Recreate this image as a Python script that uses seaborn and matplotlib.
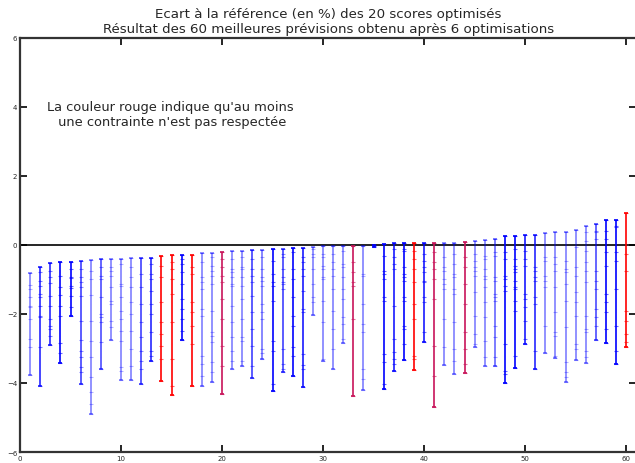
import matplotlib
matplotlib.use("Agg")
import matplotlib.pyplot as plt
import seaborn as sns
import pandas as pd

# Ecart (%) des 20 scores pour chacune des 60 meilleures prévisions (scores lus par prévision)
scores = [
    [-0.81, -1.15, -1.28, -1.52, -1.76, -1.81, -2.14, -2.72, -2.95, -3.76],
    [-0.63, -0.79, -1.03, -1.18, -1.42, -1.52, -1.76, -2.05, -2.10, -2.97, -4.09],
    [-0.53, -0.74, -0.94, -1.11, -1.47, -1.76, -2.14, -2.34, -2.43, -2.63, -2.91],
    [-0.48, -0.89, -1.21, -1.44, -1.76, -2.07, -2.84, -3.14, -3.43],
    [-0.48, -0.70, -0.92, -0.96, -1.18, -1.25, -1.47, -1.81, -2.06],
    [-0.46, -0.70, -0.94, -1.08, -1.23, -1.47, -2.19, -2.75, -3.06, -3.26, -3.54, -3.69, -4.04],
    [-0.43, -0.74, -0.99, -1.44, -2.19, -2.77, -3.26, -3.83, -4.27, -4.61, -4.91],
    [-0.42, -0.65, -0.89, -0.99, -1.52, -2.00, -2.10, -2.24, -2.82, -3.59],
    [-0.40, -0.65, -0.74, -0.89, -1.23, -1.61, -1.71, -2.19, -2.39, -2.75],
    [-0.40, -0.55, -1.13, -1.18, -1.52, -1.90, -2.14, -2.48, -2.77, -3.55, -3.64, -3.92],
    [-0.39, -0.65, -0.94, -1.23, -1.66, -2.00, -2.48, -3.01, -3.50, -3.92],
    [-0.39, -0.84, -1.23, -1.71, -2.24, -2.68, -3.06, -3.35, -3.59, -4.04],
    [-0.37, -0.55, -0.84, -0.99, -1.32, -1.71, -2.00, -2.53, -3.06, -3.21, -3.35],
    [-0.33, -0.60, -0.94, -1.66, -2.24, -2.58, -2.92, -3.31, -3.93],
    [-0.30, -0.50, -0.70, -0.99, -1.42, -2.24, -3.31, -4.08, -4.35],
    [-0.30, -0.41, -0.55, -0.79, -1.13, -1.57, -1.86, -2.14, -2.48, -2.74],
    [-0.29, -0.65, -0.84, -1.66, -1.95, -2.34, -2.87, -4.09],
    [-0.24, -0.50, -0.94, -1.08, -1.28, -1.86, -2.05, -3.21, -3.45, -3.79, -4.10],
    [-0.22, -0.36, -0.60, -0.74, -0.89, -1.13, -1.90, -2.53, -2.63, -2.82, -3.40, -3.69, -3.97],
    [-0.21, -0.41, -0.65, -0.89, -1.08, -1.57, -2.14, -2.92, -3.50, -4.32],
    [-0.18, -0.41, -0.70, -0.79, -0.94, -1.13, -1.18, -1.76, -2.24, -2.68, -3.06, -3.35, -3.59],
    [-0.18, -0.36, -0.65, -0.70, -0.94, -1.18, -1.57, -2.14, -2.68, -2.77, -3.35, -3.52],
    [-0.15, -0.41, -0.70, -0.89, -1.08, -1.47, -1.95, -2.43, -2.92, -3.50, -3.85],
    [-0.14, -0.36, -0.70, -0.94, -1.03, -1.18, -1.71, -1.95, -2.14, -3.01, -3.13, -3.31],
    [-0.12, -0.45, -0.84, -1.08, -1.18, -1.61, -2.77, -3.06, -4.03, -4.22],
    [-0.12, -0.26, -0.36, -0.70, -0.94, -1.08, -1.13, -1.28, -3.01, -3.45, -3.59, -3.67],
    [-0.10, -0.21, -0.70, -0.99, -1.52, -2.05, -2.34, -2.97, -3.21, -3.80],
    [-0.10, -0.36, -0.50, -0.70, -0.89, -1.32, -1.86, -1.95, -3.16, -3.48, -3.59, -4.13],
    [-0.07, -0.12, -0.26, -0.36, -0.70, -1.13, -1.52, -1.66, -2.04],
    [-0.04, -0.26, -0.36, -0.60, -0.70, -0.94, -0.99, -1.61, -2.24, -3.31, -3.37],
    [-0.04, -0.26, -0.50, -0.70, -0.89, -1.28, -1.90, -2.43, -3.01, -3.60],
    [-0.04, -0.17, -0.55, -0.65, -0.94, -1.28, -1.57, -2.10, -2.29, -2.72, -2.85],
    [-0.04, -0.50, -0.79, -1.08, -1.18, -2.14, -4.38],
    [-0.04, -0.84, -0.89, -1.71, -2.29, -2.53, -3.59, -3.88, -4.21],
    [0.01, -0.02, -0.05],
    [0.02, -0.31, -0.74, -0.84, -0.99, -1.52, -1.61, -3.16, -3.40, -4.03, -4.18],
    [0.05, -0.12, -0.36, -0.55, -0.70, -1.76, -2.72, -3.11, -3.31, -3.45, -3.65],
    [0.05, -0.12, -0.17, -0.65, -0.84, -0.94, -1.03, -1.52, -1.61, -2.34, -2.43, -2.87, -3.32],
    [0.05, -0.17, -0.41, -0.70, -1.08, -1.71, -2.14, -3.21, -3.31, -3.61],
    [0.05, -0.26, -0.45, -0.65, -0.79, -1.03, -1.08, -1.52, -1.66, -2.53, -2.80],
    [0.05, -0.21, -0.50, -0.70, -0.99, -1.57, -2.92, -3.79, -4.70],
    [0.07, -0.34, -0.63, -0.74, -0.99, -1.13, -1.28, -2.14, -2.97, -3.48],
    [0.07, -0.26, -0.55, -0.84, -0.94, -1.28, -1.42, -2.24, -3.01, -3.35, -3.73],
    [0.08, -0.36, -0.65, -1.13, -1.71, -2.53, -3.01, -3.45, -3.72],
    [0.11, -0.26, -0.45, -0.65, -0.74, -0.89, -1.37, -2.05, -2.58, -2.87, -2.96],
    [0.14, -0.31, -0.41, -0.70, -0.89, -0.99, -1.23, -1.66, -2.10, -2.77, -3.26, -3.52],
    [0.18, -0.21, -0.31, -0.94, -1.03, -1.42, -1.52, -1.61, -2.34, -2.68, -3.26, -3.51],
    [0.25, -0.21, -0.41, -0.89, -0.99, -1.18, -1.32, -2.87, -3.64, -3.74, -3.99],
    [0.25, -0.12, -0.41, -0.60, -0.70, -0.79, -1.03, -1.23, -1.28, -1.61, -1.90, -3.21, -3.56],
    [0.28, -0.17, -0.41, -0.60, -1.42, -1.57, -1.81, -2.19, -2.72, -2.87],
    [0.28, -0.65, -0.74, -0.94, -1.03, -1.52, -1.71, -3.06, -3.59],
    [0.36, -0.36, -0.45, -0.89, -1.03, -1.23, -2.34, -3.13],
    [0.37, -0.36, -0.55, -0.74, -1.23, -1.95, -2.53, -2.63, -3.21, -3.28],
    [0.37, -0.45, -0.70, -0.79, -1.13, -1.61, -2.39, -3.40, -3.69, -3.84, -3.97],
    [0.43, -0.07, -0.65, -0.89, -1.37, -1.66, -2.05, -2.87, -3.01, -3.32],
    [0.55, 0.37, 0.12, -0.16, -0.50, -0.74, -1.08, -2.05, -2.43, -2.53, -3.06, -3.26, -3.43],
    [0.62, 0.41, 0.37, 0.17, -0.74, -1.03, -1.28, -1.86, -2.10, -2.34, -2.76],
    [0.72, 0.41, 0.17, -0.21, -0.60, -1.42, -1.66, -1.95, -2.43, -2.84],
    [0.73, 0.56, 0.51, -0.21, -0.45, -1.28, -2.34, -3.06, -3.46],
    [0.92, -0.26, -0.74, -1.90, -2.19, -2.58, -2.82, -2.96],
]

# Statut des contraintes : "ok" respecté, "viol" / "viol2" au moins une contrainte non respectée
status = (["ok"] * 13 + ["viol", "viol", "ok", "viol", "ok", "ok", "viol2"]
          + ["ok"] * 12 + ["viol2"] + ["ok"] * 5 + ["viol", "ok", "viol2", "ok", "ok", "viol2"]
          + ["ok"] * 15 + ["viol"])

# Intensité du trait de chaque prévision
intensity = [0.5, 0.85, 0.85, 1.0, 1.0, 0.75, 0.5, 0.7, 0.5, 0.5,
             0.5, 0.75, 0.85, 1.0, 1.0, 1.0, 1.0, 0.5, 0.5, 1.0,
             0.5, 0.5, 0.75, 0.55, 1.0, 0.75, 1.0, 0.9, 0.5, 0.5,
             0.5, 0.5, 1.0, 0.5, 1.0, 1.0, 0.9, 1.0, 1.0, 0.9,
             1.0, 0.5, 0.5, 1.0, 0.5, 0.5, 0.6, 1.0, 1.0, 0.9,
             0.85, 0.5, 0.5, 0.5, 0.5, 0.5, 0.7, 1.0, 1.0, 1.0]

palette = {"ok": "#0000ff", "viol": "#ff0000", "viol2": "#c8145a"}

title = ("Ecart à la référence (en %) des 20 scores optimisés\n"
         "Résultat des 60 meilleures prévisions obtenu après 6 optimisations")
note = "La couleur rouge indique qu'au moins\n une contrainte n'est pas respectée"

rows = []
for i, vals in enumerate(scores, start=1):
    for v in vals:
        rows.append({"prevision": i, "ecart": v, "statut": status[i - 1],
                     "alpha": intensity[i - 1]})
df = pd.DataFrame(rows)

sns.set_style("white")
plt.rcParams["font.family"] = ["DejaVu Sans"]

fig = plt.figure(figsize=(6.35, 4.64), dpi=100)
# l'axe déborde légèrement à droite de la figure
ax = fig.add_axes([0.0315, 0.0237, 0.9705, 0.8923])

# ligne de référence
ax.axhline(0, color="black", lw=1.2, zorder=1)

# étendue de chaque prévision + scores individuels
for i, grp in df.groupby("prevision"):
    col = palette[grp["statut"].iloc[0]]
    a = grp["alpha"].iloc[0]
    lo, hi = grp["ecart"].min(), grp["ecart"].max()
    ax.vlines(i, lo, hi, color=col, alpha=a, lw=1.2, zorder=2)
    ax.plot([i, i], [lo, hi], ls="none", marker="_", ms=3, mew=1.2,
            color=col, alpha=a, zorder=3)
    sns.scatterplot(x=grp["prevision"], y=grp["ecart"], marker="_", s=5,
                    color=col, alpha=min(1.0, a * 0.6), linewidth=0.8,
                    ax=ax, legend=False, zorder=3)

ax.set_xlim(0, 61)
ax.set_ylim(-6, 6)
ax.set_xticks(range(0, 61, 10))
ax.set_yticks(range(-6, 7, 2))
ax.set_xlabel("")
ax.set_ylabel("")
ax.tick_params(direction="in", length=5, width=1.2, labelsize=5, top=True,
               right=True, bottom=True, left=True, pad=2, color="black")
for sp in ax.spines.values():
    sp.set_visible(True)
    sp.set_color("#333333")
    sp.set_linewidth(1.6)

ax.set_title(title, fontsize=9.6, pad=4, linespacing=1.2)
ax.text(14.9, 3.8, note, ha="center", va="center", fontsize=9.4,
        linespacing=1.25)

fig.savefig("out.png", dpi=100)
